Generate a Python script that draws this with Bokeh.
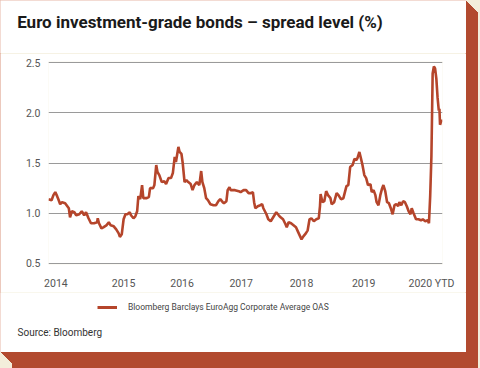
from bokeh.plotting import figure
from bokeh.layouts import column, row
from bokeh.models import Legend, LegendItem, FixedTicker, Range1d, Label
from bokeh.embed import file_html
from bokeh.resources import INLINE

# ---- data ----
dates = [2014.00, 2014.05, 2014.08, 2014.11, 2014.14, 2014.16, 2014.19, 2014.22, 2014.27, 2014.33,
         2014.35, 2014.38, 2014.42, 2014.45, 2014.50, 2014.54, 2014.58, 2014.61, 2014.65, 2014.69,
         2014.74, 2014.79, 2014.80, 2014.82, 2014.86, 2014.89, 2014.94, 2014.98, 2015.01, 2015.06,
         2015.10, 2015.14, 2015.16, 2015.19, 2015.22, 2015.25, 2015.28, 2015.32, 2015.34, 2015.38,
         2015.41, 2015.44, 2015.46, 2015.49, 2015.52, 2015.54, 2015.59, 2015.63, 2015.65, 2015.70,
         2015.72, 2015.75, 2015.77, 2015.80, 2015.84, 2015.88, 2015.91, 2015.95, 2015.99, 2016.02,
         2016.05, 2016.07, 2016.11, 2016.13, 2016.16, 2016.18, 2016.21, 2016.24, 2016.27, 2016.31,
         2016.34, 2016.37, 2016.41, 2016.45, 2016.48, 2016.50, 2016.53, 2016.56, 2016.59, 2016.63,
         2016.68, 2016.72, 2016.76, 2016.79, 2016.83, 2016.85, 2016.89, 2016.91, 2016.94, 2016.96,
         2017.03, 2017.09, 2017.12, 2017.17, 2017.21, 2017.25, 2017.29, 2017.32, 2017.34, 2017.36,
         2017.40, 2017.44, 2017.47, 2017.49, 2017.54, 2017.57, 2017.61, 2017.66, 2017.70, 2017.74,
         2017.77, 2017.81, 2017.85, 2017.87, 2017.90, 2017.94, 2017.98, 2018.02, 2018.05, 2018.08,
         2018.11, 2018.14, 2018.18, 2018.21, 2018.24, 2018.27, 2018.31, 2018.35, 2018.39, 2018.41,
         2018.42, 2018.45, 2018.48, 2018.51, 2018.54, 2018.58, 2018.60, 2018.64, 2018.68, 2018.71,
         2018.75, 2018.79, 2018.84, 2018.87, 2018.90, 2018.94, 2018.97, 2019.00, 2019.02, 2019.05,
         2019.07, 2019.10, 2019.13, 2019.16, 2019.19, 2019.23, 2019.25, 2019.28, 2019.31, 2019.33,
         2019.36, 2019.39, 2019.42, 2019.44, 2019.47, 2019.50, 2019.53, 2019.56, 2019.59, 2019.62,
         2019.65, 2019.68, 2019.70, 2019.73, 2019.76, 2019.79, 2019.82, 2019.85, 2019.88, 2019.90,
         2019.93, 2019.97, 2020.01, 2020.05, 2020.08, 2020.12, 2020.16, 2020.18, 2020.20, 2020.22,
         2020.23, 2020.24, 2020.26, 2020.28, 2020.29, 2020.30, 2020.32, 2020.34, 2020.35, 2020.36,
         2020.38, 2020.40]

spread = [1.14, 1.13, 1.18, 1.21, 1.17, 1.14, 1.09, 1.11, 1.10, 1.05,
          0.96, 1.02, 1.01, 0.98, 0.99, 1.02, 0.98, 1.01, 0.95, 0.90,
          0.90, 0.91, 0.95, 0.90, 0.85, 0.86, 0.88, 0.91, 0.88, 0.87,
          0.84, 0.80, 0.765, 0.79, 0.94, 0.99, 0.99, 1.01, 0.98, 0.95,
          0.97, 1.02, 1.17, 1.14, 1.28, 1.15, 1.15, 1.16, 1.25, 1.25,
          1.28, 1.48, 1.41, 1.38, 1.31, 1.32, 1.29, 1.35, 1.35, 1.40,
          1.56, 1.51, 1.66, 1.61, 1.59, 1.50, 1.31, 1.33, 1.31, 1.29,
          1.23, 1.28, 1.31, 1.28, 1.42, 1.31, 1.25, 1.15, 1.13, 1.09,
          1.08, 1.08, 1.12, 1.14, 1.11, 1.10, 1.12, 1.23, 1.26, 1.23,
          1.23, 1.22, 1.21, 1.23, 1.23, 1.20, 1.20, 1.21, 1.11, 1.05,
          1.07, 1.08, 1.09, 1.05, 0.99, 0.94, 0.92, 0.97, 1.01, 0.98,
          0.96, 0.94, 0.89, 0.86, 0.91, 0.90, 0.88, 0.86, 0.82, 0.78,
          0.74, 0.77, 0.80, 0.83, 0.94, 0.95, 0.92, 0.94, 0.95, 1.07,
          1.19, 1.11, 1.12, 1.22, 1.18, 1.15, 1.09, 1.11, 1.20, 1.18,
          1.14, 1.15, 1.27, 1.28, 1.46, 1.48, 1.54, 1.53, 1.55, 1.61,
          1.56, 1.48, 1.38, 1.35, 1.28, 1.29, 1.21, 1.23, 1.18, 1.11,
          1.08, 1.18, 1.25, 1.28, 1.22, 1.11, 1.10, 1.05, 0.99, 1.08,
          1.09, 1.07, 1.11, 1.08, 1.12, 1.11, 1.07, 1.02, 0.99, 1.05,
          1.00, 0.94, 0.94, 0.93, 0.94, 0.92, 0.93, 0.90, 1.17, 1.57,
          1.97, 2.39, 2.46, 2.44, 2.39, 2.34, 2.15, 2.02, 2.04, 1.88,
          1.92, 1.92]

y_ticks = [0.5, 1.0, 1.5, 2.0, 2.5]
y_tick_labels = ["0.5", "1.0", "1.5", "2.0", "2.5"]
x_tick_pos = [2014.12, 2015.22, 2016.17, 2017.13, 2018.11, 2019.12, 2020.22]
x_tick_labels = ["2014", "2015", "2016", "2017", "2018", "2019", "2020 YTD"]

title_text = "Euro investment-grade bonds \u2013 spread level (%)"
series_name = "Bloomberg Barclays EuroAgg Corporate Average OAS"
source_text = "Source: Bloomberg"

LINE_RED = "#b5452b"
SHADOW_RED = "#b24a2f"
BEIGE = "#f3eedb"
FONT = "Roboto"
W = 466

shadow = ", ".join(f"{min(i, 12)}px {i}px 0 {SHADOW_RED}" for i in range(1, 17))


def blank(h):
    f = figure(width=W, height=h, output_backend="svg", toolbar_location=None,
               x_range=Range1d(0, W), y_range=Range1d(0, h),
               x_axis_type=None, y_axis_type=None,
               min_border_left=0, min_border_right=0, min_border_top=0, min_border_bottom=0)
    f.outline_line_color = None
    f.background_fill_color = "white"
    f.border_fill_color = "white"
    f.grid.visible = False
    return f


# ---- header with title ----
p0 = blank(53)
p0.add_layout(Label(x=16.7, y=31.5, text=title_text, text_font=FONT, text_font_style="bold",
                    text_font_size="17px", text_color="#1a1a1a", text_baseline="alphabetic"))

# ---- main chart ----
p = figure(width=W, height=239, output_backend="svg", toolbar_location=None,
           x_range=Range1d(2014.0, 2020.40), y_range=Range1d(0.49, 2.51),
           min_border_left=48, min_border_right=24, min_border_top=8, min_border_bottom=25)
p.outline_line_color = None
p.background_fill_color = "white"
p.border_fill_color = "white"

p.xgrid.visible = False
p.ygrid.ticker = FixedTicker(ticks=y_ticks)
p.ygrid.grid_line_color = "#9a9a9a"
p.ygrid.grid_line_width = 1

p.yaxis.ticker = FixedTicker(ticks=y_ticks)
p.yaxis.major_label_overrides = dict(zip(y_ticks, y_tick_labels))
p.xaxis.ticker = FixedTicker(ticks=x_tick_pos)
p.xaxis.major_label_overrides = dict(zip(x_tick_pos, x_tick_labels))
for ax in (p.xaxis[0], p.yaxis[0]):
    ax.axis_line_color = None
    ax.major_tick_line_color = None
    ax.minor_tick_line_color = None
    ax.major_tick_out = 0
    ax.major_tick_in = 0
    ax.major_label_text_font = FONT
    ax.major_label_text_font_size = "10.5px"
    ax.major_label_text_color = "#555555"
p.xaxis.major_label_standoff = 12
p.yaxis.major_label_standoff = 8

p.line(dates, spread, line_color=LINE_RED, line_width=2.6)

# ---- footer with legend and source ----
p2 = blank(60)
key = p2.line(dates, spread, line_color=LINE_RED, line_width=3)  # lies outside this strip's view
p2.add_layout(Legend(items=[LegendItem(label=series_name, renderers=[key])],
                     location=(97, 35.5), padding=0, margin=0, spacing=0,
                     border_line_color=None, background_fill_alpha=0,
                     label_standoff=11, glyph_width=20, glyph_height=20, label_height=20,
                     label_text_font=FONT, label_text_font_size="8.5px",
                     label_text_color="#444444"))
p2.add_layout(Label(x=17, y=20, text=source_text, text_font=FONT, text_font_size="10px",
                    text_color="#333333", text_baseline="alphabetic"))

card = column(row(p0), p, row(p2), spacing=0,
              styles={"box-shadow": shadow, "outline": "1px solid #e6b7a7",
                      "outline-offset": "-1px"})
page = column(card, width=480, height=368, styles={"background-color": BEIGE})

open("out.html", "w").write(file_html(page, INLINE))
